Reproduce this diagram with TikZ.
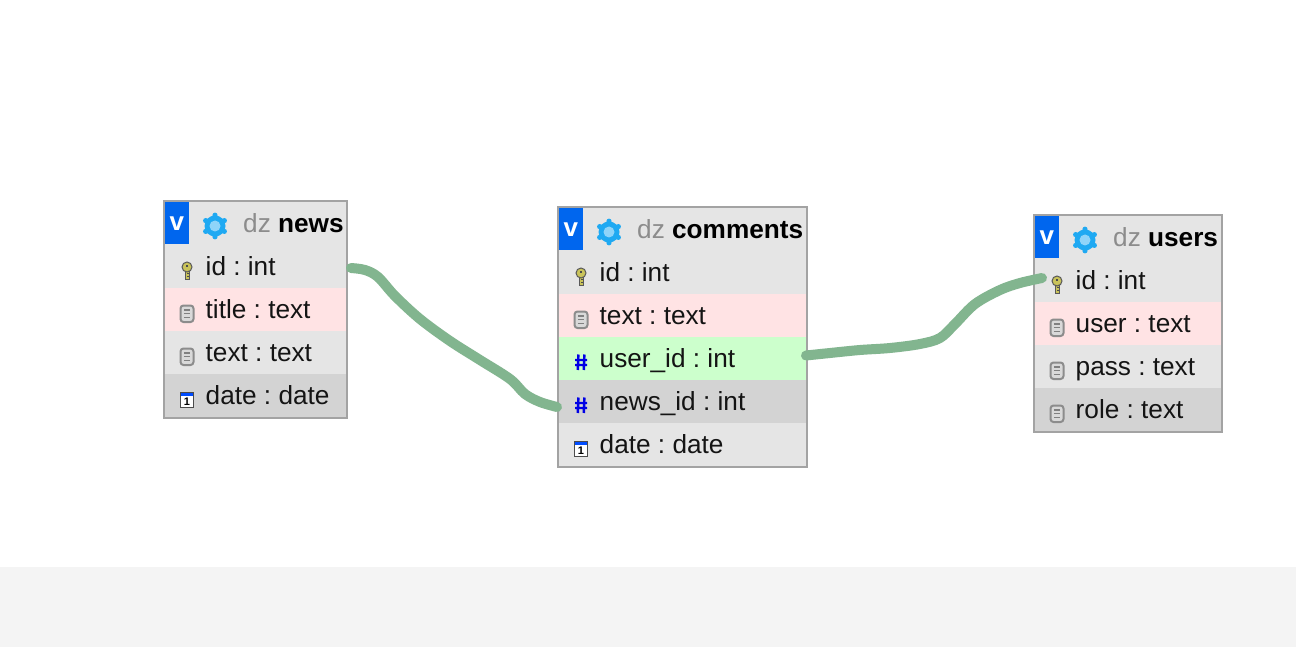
\documentclass[tikz,border=0pt]{standalone}
\usepackage{fontspec}
\setmainfont{Liberation Sans}
\frenchspacing
\definecolor{rowplain}{HTML}{E5E5E5}
\definecolor{rowpink}{HTML}{FFE3E4}
\definecolor{rowgreen}{HTML}{CCFFCC}
\definecolor{rowdark}{HTML}{D3D3D3}
\definecolor{frameg}{HTML}{A3A3A3}
\definecolor{vblue}{HTML}{0066EE}
\definecolor{gearblue}{HTML}{1FA9F2}
\definecolor{conn}{HTML}{82B58F}
\definecolor{band}{HTML}{F4F4F4}
\definecolor{dzgrey}{HTML}{8C8C8C}
\definecolor{keyyellow}{HTML}{C9C35A}
\tikzset{
  x=1pt,y=-1pt,
  rowbox/.style={draw=none,inner sep=0pt,minimum height=43pt,anchor=north west,outer sep=0pt},
  rowtext/.style={anchor=base west,inner sep=0pt,font=\fontsize{26.2}{30}\selectfont,text=black!92},
  headtext/.style={anchor=base west,inner sep=0pt,font=\fontsize{26.2}{30}\selectfont},
  vbox/.style={fill=vblue,text=white,inner sep=0pt,minimum width=23.5pt,minimum height=42pt,anchor=north west,font=\fontsize{26}{30}\bfseries\selectfont},
  tableframe/.style={draw=frameg,line width=2pt,fill=rowplain,inner sep=0pt,anchor=north west,outer sep=0pt},
  connector/.style={draw=conn,line width=10pt,line cap=round,line join=round},
}
\newcommand{\icokey}[2]{\begin{scope}[shift={(#1,#2)}]
  \fill[keyyellow,draw=black!65,line width=1pt] (-2,0) rectangle (2.4,9);
  \fill[keyyellow,draw=black!65,line width=1pt] (0,-3) circle (5);
  \fill[black!70] (-1.2,-5.5) rectangle (1.2,-3);
  \draw[black!70,line width=1pt] (0,3) -- (2.4,3) (0,6) -- (2.4,6);
\end{scope}}
\newcommand{\icofile}[2]{\begin{scope}[shift={(#1,#2)}]
  \draw[black!45,fill=white!85!black,line width=2pt,rounded corners=3pt] (-6.5,-7.5) rectangle (6.5,9);
  \draw[black!50,line width=1.2pt] (-3.2,-3) -- (3.2,-3) (-3.2,0.7) -- (3.2,0.7) (-3.2,4.4) -- (3.2,4.4);
\end{scope}}
\newcommand{\icocal}[2]{\begin{scope}[shift={(#1,#2)}]
  \fill[white] (-7,-7) rectangle (7,9);
  \fill[blue!70!cyan] (-7,-7) rectangle (7,-3);
  \draw[black!70,line width=1.5pt] (-6.5,-6.5) rectangle (6.5,8.5);
  \node[inner sep=0pt,font=\fontsize{11}{11}\bfseries\selectfont] at (0,3) {1};
\end{scope}}
\newcommand{\icogear}[2]{\begin{scope}[shift={(#1,#2)}]
  \foreach \a in {30,90,...,330}{\fill[gearblue] (\a:10.8) circle (2.6);}
  \fill[gearblue] (0,0) circle (10.5);
  \fill[white!50!gearblue] (0,0) circle (5.5);
\end{scope}}
\newcommand{\icohash}[2]{\begin{scope}[shift={(#1,#2)}]
  \draw[blue!90!black,line width=2.4pt] (-2.6,-7.5) -- (-3.2,8) (3.4,-7.5) -- (2.8,8) (-6,-2) -- (6,-2) (-6,3) -- (6,3);
\end{scope}}
% \tablehead{name}{x}{ytop}{width}{total height}{table name}
\newcommand{\tablehead}[6]{%
  \node[tableframe,minimum width=#4pt,minimum height=#5pt] (#1) at (#2,#3) {};
  \node[vbox] (#1-v) at (#2+1,#3+1) {v};
  \icogear{#2+51}{#3+25}
  \node[headtext] (#1-title) at (#2+79,#3+32) {\textcolor{dzgrey}{dz} \textbf{#6}};
}
% \tablerow{name}{x}{ytop}{width}{colour}{text}{icon}
\newcommand{\tablerow}[7]{%
  \node[rowbox,fill=#5,minimum width=#4pt] (#1) at (#2+1,#3) {};
  #7{#2+23}{#3+25}
  \node[rowtext] (#1-t) at (#2+41.5,#3+30) {#6};
}
\begin{document}
\begin{tikzpicture}
\useasboundingbox (0,0) rectangle (1296,647);
\fill[white] (0,0) rectangle (1296,647);
\fill[band] (0,567) rectangle (1296,647);

% news
\tablehead{news}{164}{201}{183}{217}{news}
\tablerow{news-id}{164}{245}{181}{rowplain}{id : int}{\icokey}
\tablerow{news-title}{164}{288}{181}{rowpink}{title : text}{\icofile}
\tablerow{news-text}{164}{331}{181}{rowplain}{text : text}{\icofile}
\tablerow{news-date}{164}{374}{181}{rowdark}{date : date}{\icocal}

% comments
\tablehead{comments}{558}{207}{249}{260}{comments}
\tablerow{comments-id}{558}{251}{247}{rowplain}{id : int}{\icokey}
\tablerow{comments-text}{558}{294}{247}{rowpink}{text : text}{\icofile}
\tablerow{comments-user}{558}{337}{247}{rowgreen}{user\_id : int}{\icohash}
\tablerow{comments-news}{558}{380}{247}{rowdark}{news\_id : int}{\icohash}
\tablerow{comments-date}{558}{423}{247}{rowplain}{date : date}{\icocal}

% users
\tablehead{users}{1034}{215}{188}{217}{users}
\tablerow{users-id}{1034}{259}{186}{rowplain}{id : int}{\icokey}
\tablerow{users-user}{1034}{302}{186}{rowpink}{user : text}{\icofile}
\tablerow{users-pass}{1034}{345}{186}{rowplain}{pass : text}{\icofile}
\tablerow{users-role}{1034}{388}{186}{rowdark}{role : text}{\icofile}

% connectors
\coordinate (newsstart) at ([xshift=5pt,yshift=-1.5pt]news-id.east);
\coordinate (newsend) at ([xshift=-2pt,yshift=-5.5pt]comments-news.west);
\coordinate (userstart) at ([xshift=0pt,yshift=3pt]comments-user.east);
\coordinate (usersend) at ([xshift=7pt,yshift=-19pt]users-id.north west);
\draw[connector] plot[smooth,tension=.55] coordinates {(newsstart) (365,270) (378,277) (395,296) (420,319) (450,341) (480,360) (510,379) (525,394) (540,402) (newsend)};
\draw[connector] plot[smooth,tension=.55] coordinates {(userstart) (830,353) (860,350) (890,348) (920,344) (940,338) (955,324) (975,304) (1000,290) (1020,283) (usersend)};
\end{tikzpicture}
\end{document}
